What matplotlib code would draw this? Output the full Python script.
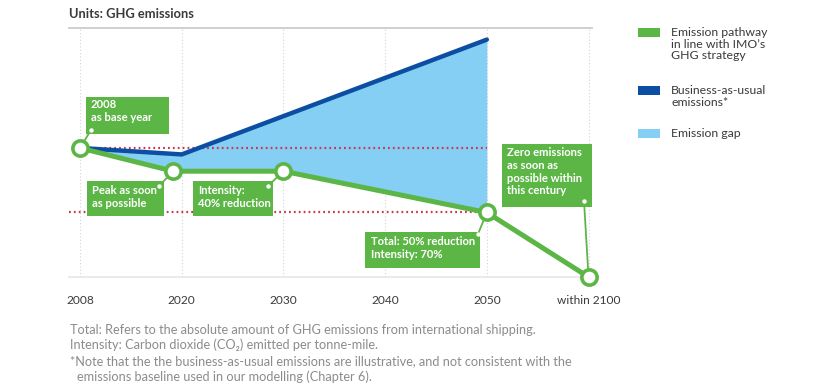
import numpy as np
import matplotlib
matplotlib.use("Agg")
import matplotlib.pyplot as plt
from matplotlib.patches import Rectangle

plt.rcParams['font.family'] = ['Lato', 'DejaVu Sans']

# ---- data -------------------------------------------------------------
axis_years = [2008, 2020, 2030, 2040, 2050, 2100]
tick_labels = ['2008', '2020', '2030', '2040', '2050', 'within 2100']

imo_years = [2008, 2019, 2030, 2050, 2100]
imo_values = [100, 82, 82, 50, 0]          # emission pathway (2008 = 100)

bau_years = [2008, 2020, 2050]
bau_values = [100, 95, 184]                # business-as-usual (illustrative)

base_level = 100
half_level = 50

# ---- style ------------------------------------------------------------
GREEN = '#5cb646'
DARK_BLUE = '#0b4ea2'
LIGHT_BLUE = '#84cff3'
RED = '#c8374f'
TEXT = '#3a3a3a'
NOTE = '#8c8c8c'

W, H = 833, 388
fig = plt.figure(figsize=(W / 100, H / 100), dpi=100)


def fx(px):
    return px / W


def fy(py):
    return 1 - py / H


ax = fig.add_axes([fx(69), fy(277), fx(592) - fx(69), fy(28) - fy(277)])

ticks = np.arange(len(axis_years))


def pos(years):
    return np.interp(years, axis_years, ticks)


imo_x = pos(imo_years)
bau_x = pos(bau_years)

# emission gap between the two pathways, up to 2050
gap_x = np.union1d(imo_x[imo_x <= pos(2050)], bau_x)
gap_low = np.interp(gap_x, imo_x, imo_values)
gap_high = np.interp(gap_x, bau_x, bau_values)
ax.fill_between(gap_x, gap_low, gap_high, color=LIGHT_BLUE, lw=0, zorder=2)

# reference levels
ax.plot([pos(2008), pos(2050)], [base_level, base_level], color=RED,
        lw=1.6, ls=(0, (0.8, 1.4)), zorder=3)
ax.plot([-0.11, pos(2050)], [half_level, half_level], color=RED,
        lw=1.6, ls=(0, (0.8, 1.4)), zorder=3)

ax.plot(bau_x, bau_values, color=DARK_BLUE, lw=3.2, zorder=4,
        solid_joinstyle='round', solid_capstyle='round')
ax.plot(imo_x, imo_values, color=GREEN, lw=3.6, zorder=5,
        solid_joinstyle='round', clip_on=False)
ax.plot(imo_x, imo_values, ls='none', marker='o', ms=11, mfc='white',
        mec=GREEN, mew=2.6, zorder=7, clip_on=False)

for t in ticks:
    ax.axvline(t, color='#d4d4d4', lw=0.8, ls=(0, (1, 2)), zorder=1)

ax.set_xlim(-0.108, 5.034)
ax.set_ylim(0, 193)
ax.set_xticks(ticks)
ax.set_xticklabels(tick_labels, fontsize=8.6, color=TEXT)
ax.tick_params(axis='x', length=0, pad=13)
ax.set_yticks([])
for side in ('left', 'right'):
    ax.spines[side].set_visible(False)
ax.spines['top'].set_color('#cccccc')
ax.spines['top'].set_linewidth(1.3)
ax.spines['bottom'].set_color('#e6e6e6')
ax.spines['bottom'].set_linewidth(1.2)

# ---- annotation boxes -------------------------------------------------
boxes = [
    # box (x0, y0, x1, y1) px, text, text top-left, dot, point index
    ((86, 97, 169, 134), '2008\nas base year', (91, 99), (91, 130), 0),
    ((87, 181, 164, 216), 'Peak as soon\nas possible', (92, 185), (159, 186), 1),
    ((193, 181, 273, 216), 'Intensity:\n40% reduction', (198, 185), (268, 186), 2),
    ((365, 232, 480, 268), 'Total: 50% reduction\nIntensity: 70%', (371, 236), (478, 234), 3),
    ((502, 144, 592, 207), 'Zero emissions\nas soon as\npossible within\nthis century',
     (507, 147), (584, 201), 4),
]
for (x0, y0, x1, y1), txt, (tx, ty), (dx, dy), idx in boxes:
    fig.patches.append(Rectangle((fx(x0), fy(y1)), fx(x1) - fx(x0), fy(y0) - fy(y1),
                                 transform=fig.transFigure, fc=GREEN, ec='none',
                                 zorder=6))
    fig.text(fx(tx), fy(ty), txt, color='white', fontsize=8.1, fontweight='bold',
             va='top', ha='left', linespacing=1.2, zorder=8)
    ax.annotate('', xy=(imo_x[idx], imo_values[idx]), xycoords='data',
                xytext=(fx(dx), fy(dy)), textcoords='figure fraction',
                arrowprops=dict(arrowstyle='-', color=GREEN, lw=1.3,
                                shrinkA=0, shrinkB=0), zorder=6,
                annotation_clip=False)
    fig.lines.append(plt.Line2D([fx(dx)], [fy(dy)], transform=fig.transFigure,
                                marker='o', ms=3.2, mfc='white', mec='none',
                                ls='none', zorder=9))

# ---- legend -----------------------------------------------------------
legend_items = [
    (GREEN, 'Emission pathway\nin line with IMO\u2019s\nGHG strategy', 28),
    (DARK_BLUE, 'Business-as-usual\nemissions*', 86),
    (LIGHT_BLUE, 'Emission gap', 129),
]
for color, label, top in legend_items:
    fig.patches.append(Rectangle((fx(638), fy(top + 9)), fx(660) - fx(638),
                                 fy(top) - fy(top + 9), transform=fig.transFigure,
                                 fc=color, ec='none'))
    fig.text(fx(671), fy(top - 1), label, color=TEXT, fontsize=8.8,
             va='top', ha='left', linespacing=1.08)

# ---- titles and notes -------------------------------------------------
fig.text(fx(69), fy(14), 'Units: GHG emissions', color=TEXT, fontsize=9.3,
         fontweight='bold', va='center', ha='left')

notes = [
    (70, 330, 'Total: Refers to the absolute amount of GHG emissions from international shipping.'),
    (70, 345, 'Intensity: Carbon dioxide (CO\u2082) emitted per tonne-mile.'),
    (70, 361, '*Note that the the business-as-usual emissions are illustrative, and not consistent with the'),
    (77, 377, 'emissions baseline used in our modelling (Chapter 6).'),
]
for x, y, s in notes:
    fig.text(fx(x), fy(y), s, color=NOTE, fontsize=9.15, va='center', ha='left')

fig.savefig('out.png', dpi=100, facecolor='white')
